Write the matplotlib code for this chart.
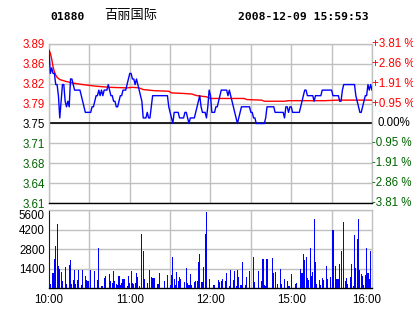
import matplotlib
matplotlib.use("Agg")
import matplotlib.pyplot as plt
import matplotlib.transforms as mtransforms
import numpy as np

plt.rcParams['font.family'] = ['Liberation Sans', 'DejaVu Sans']

# 数据
code = '01880'
name = '百丽国际'
stamp = '2008-12-09 15:59:53'
prev_close = 3.75
max_pct = 3.81

# price per minute, 10:00 .. 16:00 (240 trading minutes)
price = [
    3.88, 3.84, 3.85, 3.84, 3.84, 3.82, 3.82, 3.80, 3.76, 3.79,
    3.82, 3.82, 3.79, 3.78, 3.79, 3.78, 3.83, 3.83, 3.82, 3.81,
    3.81, 3.81, 3.81, 3.81, 3.80, 3.79, 3.78, 3.77, 3.77, 3.77,
    3.77, 3.77, 3.78, 3.78, 3.79, 3.80, 3.80, 3.81, 3.80, 3.81,
    3.80, 3.81, 3.81, 3.81, 3.82, 3.81, 3.80, 3.80, 3.79, 3.79,
    3.78, 3.78, 3.79, 3.80, 3.80, 3.81, 3.81, 3.81, 3.82, 3.83,
    3.84, 3.84, 3.83, 3.83, 3.82, 3.83, 3.82, 3.81, 3.80, 3.79,
    3.76, 3.76, 3.76, 3.77, 3.76, 3.76, 3.78, 3.80, 3.80, 3.80,
    3.80, 3.80, 3.80, 3.80, 3.80, 3.80, 3.80, 3.80, 3.80, 3.78,
    3.77, 3.76, 3.75, 3.77, 3.77, 3.77, 3.77, 3.76, 3.76, 3.76,
    3.76, 3.77, 3.77, 3.76, 3.75, 3.76, 3.76, 3.76, 3.76, 3.77,
    3.78, 3.79, 3.80, 3.78, 3.77, 3.77, 3.77, 3.76, 3.78, 3.81,
    3.80, 3.77, 3.77, 3.77, 3.78, 3.78, 3.79, 3.80, 3.81, 3.81,
    3.81, 3.81, 3.81, 3.80, 3.81, 3.80, 3.79, 3.78, 3.77, 3.76,
    3.75, 3.76, 3.77, 3.78, 3.78, 3.78, 3.78, 3.78, 3.78, 3.78,
    3.77, 3.77, 3.76, 3.76, 3.75, 3.75, 3.75, 3.75, 3.75, 3.75,
    3.75, 3.76, 3.78, 3.78, 3.78, 3.78, 3.78, 3.78, 3.77, 3.77,
    3.77, 3.77, 3.77, 3.77, 3.77, 3.76, 3.78, 3.78, 3.77, 3.78,
    3.78, 3.77, 3.77, 3.77, 3.77, 3.77, 3.77, 3.78, 3.79, 3.80,
    3.81, 3.81, 3.80, 3.80, 3.80, 3.80, 3.80, 3.79, 3.80, 3.80,
    3.80, 3.80, 3.80, 3.81, 3.81, 3.81, 3.81, 3.81, 3.81, 3.81,
    3.81, 3.80, 3.80, 3.80, 3.80, 3.80, 3.79, 3.79, 3.81, 3.82,
    3.82, 3.82, 3.82, 3.82, 3.82, 3.82, 3.82, 3.82, 3.80, 3.79,
    3.78, 3.77, 3.77, 3.78, 3.79, 3.80, 3.80, 3.82, 3.81, 3.82,
    3.81,
]

# average price line (minute, value)
avg_min = [0, 1, 2, 3, 4, 5, 6, 8, 12, 17, 25, 35, 45, 58, 62, 67, 70, 78,
           89, 91, 100, 106, 110, 117, 120, 145, 147, 158, 160, 175, 178,
           205, 215, 240]
avg_val = [3.882, 3.876, 3.866, 3.852, 3.843, 3.837, 3.833, 3.829, 3.826,
           3.823, 3.820, 3.817, 3.815, 3.814, 3.815, 3.814, 3.811, 3.809,
           3.808, 3.805, 3.804, 3.803, 3.800, 3.798, 3.795, 3.795, 3.793,
           3.792, 3.790, 3.790, 3.791, 3.791, 3.792, 3.792]

# volume per minute
volume = [
    5500, 290, 0, 1050, 2080, 3020, 4600, 1580, 1360, 1150,
    500, 0, 1510, 290, 0, 1650, 2010, 290, 570, 1290,
    290, 570, 1290, 0, 215, 1290, 0, 860, 570, 500,
    0, 1290, 0, 0, 1220, 0, 570, 2870, 0, 145,
    145, 720, 860, 0, 0, 1000, 500, 360, 1220, 500,
    290, 215, 860, 215, 360, 650, 650, 0, 145, 860,
    360, 1220, 360, 290, 360, 1080, 790, 145, 0, 3880,
    2660, 650, 0, 360, 0, 1290, 790, 720, 720, 0,
    0, 290, 1080, 0, 0, 0, 500, 0, 930, 0,
    215, 930, 2230, 650, 215, 1150, 500, 790, 650, 0,
    0, 430, 1440, 360, 215, 1000, 215, 0, 430, 500,
    500, 1870, 2440, 430, 430, 1510, 3880, 5460, 0, 650,
    0, 0, 200, 200, 0, 0, 570, 430, 500, 650,
    0, 500, 1080, 0, 145, 1290, 0, 570, 1220, 145,
    1290, 790, 215, 215, 1870, 0, 215, 790, 0, 1220,
    0, 0, 2230, 430, 0, 0, 1220, 0, 500, 2080,
    215, 145, 2080, 0, 0, 0, 2150, 1080, 1150, 0,
    290, 0, 1360, 290, 0, 650, 0, 500, 145, 145,
    1000, 0, 0, 290, 360, 0, 0, 1360, 1080, 2440,
    2010, 2230, 720, 570, 2870, 860, 1150, 4950, 1870, 290,
    0, 570, 215, 720, 570, 0, 1580, 650, 0, 790,
    0, 4160, 0, 1580, 650, 650, 1720, 2660, 0, 4740,
    500, 720, 290, 0, 790, 1720, 145, 3810, 1440, 3520,
    4950, 1290, 1000, 860, 215, 930, 2870, 1080, 650, 2660,
    0,
]

left_labels = ['3.61', '3.64', '3.68', '3.71', '3.75', '3.79', '3.82', '3.86', '3.89']
right_labels = ['-3.81 %', '-2.86 %', '-1.91 %', '-0.95 %', '0.00%',
                '+0.95 %', '+1.91 %', '+2.86 %', '+3.81 %']
vol_ticks = [1400, 2800, 4200, 5600]
time_labels = ['10:00', '11:00', '12:00', '15:00', '16:00']

RED = '#ff0000'
GREEN = '#006400'
BLUE = '#0000ff'
GRID = '#c0c0c0'

W, H = 414, 314
fig = plt.figure(figsize=(W / 100, H / 100), dpi=100)
fig.patch.set_facecolor('white')

x0, x1 = 49, 372
ax = fig.add_axes([x0 / W, 1 - 203 / H, (x1 - x0) / W, (203 - 44) / H])
axv = fig.add_axes([x0 / W, 1 - 288 / H, (x1 - x0) / W, (288 - 210) / H])

minutes = np.arange(len(price))
span = prev_close * max_pct / 100
ylo, yhi = prev_close - span, prev_close + span
levels = np.linspace(ylo, yhi, 9)

for a in (ax, axv):
    a.set_xlim(0, 240)
    a.set_xticks(np.arange(0, 241, 30), minor=True)
    a.grid(True, which='minor', axis='x', color=GRID, linewidth=1)
    a.grid(True, which='major', axis='y', color=GRID, linewidth=1)
    a.set_axisbelow(True)
    for s in a.spines.values():
        s.set_color(GRID)
        s.set_linewidth(1)
    a.tick_params(which='both', length=0)

# price panel
ax.set_ylim(ylo, yhi)
ax.set_yticks(levels)
ax.set_yticklabels(left_labels, fontsize=8.3)
for i, t in enumerate(ax.get_yticklabels()):
    t.set_color(GREEN if i < 4 else ('black' if i == 4 else RED))
ax.tick_params(axis='y', pad=3)
ax.set_xticks([])
ax.spines['bottom'].set_color('black')
ax.axhline(prev_close, color='black', linewidth=1.2, zorder=2)

ax.plot(avg_min, avg_val, color=RED, linewidth=1, zorder=3)
ax.plot(minutes, price, color=BLUE, linewidth=1, zorder=4)

for i, lab in enumerate(right_labels):
    col = GREEN if i < 4 else ('black' if i == 4 else RED)
    dx = 6 if i == 4 else 0
    tr = mtransforms.offset_copy(ax.get_yaxis_transform(), fig=fig, x=dx, y=0, units='dots')
    ax.text(1.0, levels[i], lab, transform=tr, ha='left', va='center',
            fontsize=8.3, color=col, clip_on=False)

# volume panel
axv.bar(minutes, volume, width=0.8, color=BLUE, linewidth=0, zorder=3,
        antialiased=False)
axv.set_ylim(0, 5600)
axv.set_yticks(vol_ticks)
axv.set_yticklabels([str(v) for v in vol_ticks], fontsize=8.3)
axv.get_yticklabels()[-1].set_verticalalignment('top')
axv.tick_params(axis='y', pad=3)
axv.set_xticks(np.arange(0, 241, 60))
axv.set_xticklabels(time_labels, fontsize=8.3)
axv.tick_params(axis='x', pad=4)
last = axv.get_xticklabels()[-1]
last.set_transform(last.get_transform() + mtransforms.ScaledTranslation(-0.05, 0, fig.dpi_scale_trans))
axv.spines['bottom'].set_color('black')

# header
fig.text(50 / W, 1 - 17 / H, code, fontsize=8.2, fontweight='bold',
         family='DejaVu Sans Mono', va='center', ha='left')
fig.text(104 / W, 1 - 16 / H, name, fontsize=9.5,
         family=['Noto Sans CJK SC', 'DejaVu Sans'], va='center', ha='left')
fig.text(238 / W, 1 - 17 / H, stamp, fontsize=8.2, fontweight='bold',
         family='DejaVu Sans Mono', va='center', ha='left')

fig.savefig('out.png', dpi=100)
